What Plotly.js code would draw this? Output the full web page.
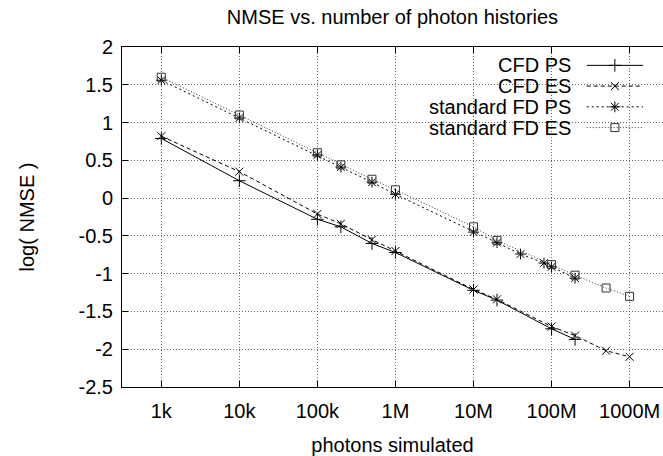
<!DOCTYPE html>
<html>
<head>
<meta charset="utf-8">
<script src="https://cdn.plot.ly/plotly-3.0.1.min.js"></script>
<style>
  html, body { margin: 0; padding: 0; background: #fff; overflow: hidden; }
  #chart { width: 663px; height: 456px; }
</style>
</head>
<body>
<div id="chart"></div>
<script>
// ---- data ----
const seriesNames = ["CFD PS", "CFD ES", "standard FD PS", "standard FD ES"];

const cfdPsX = [1e3, 1e4, 1e5, 2e5, 5e5, 1e6, 1e7, 2e7, 1e8, 2e8];
const cfdPsY = [0.79, 0.23, -0.28, -0.38, -0.60, -0.72, -1.22, -1.35, -1.73, -1.87];

const cfdEsX = [1e3, 1e4, 1e5, 2e5, 5e5, 1e6, 1e7, 2e7, 1e8, 2e8, 5e8, 1e9];
const cfdEsY = [0.82, 0.35, -0.21, -0.34, -0.55, -0.70, -1.21, -1.34, -1.70, -1.82, -2.02, -2.10];

const fdPsX = [1e3, 1e4, 1e5, 2e5, 5e5, 1e6, 1e7, 2e7, 4e7, 8e7, 1e8, 2e8];
const fdPsY = [1.56, 1.06, 0.57, 0.41, 0.21, 0.05, -0.45, -0.59, -0.74, -0.86, -0.91, -1.06];

const fdEsX = [1e3, 1e4, 1e5, 2e5, 5e5, 1e6, 1e7, 2e7, 1e8, 2e8, 5e8, 1e9];
const fdEsY = [1.60, 1.10, 0.60, 0.44, 0.25, 0.11, -0.38, -0.56, -0.88, -1.02, -1.19, -1.30];

const xTickVals = [1e3, 1e4, 1e5, 1e6, 1e7, 1e8, 1e9];
const xTickText = ["1k", "10k", "100k", "1M", "10M", "100M", "1000M"];
const yTickVals = [2, 1.5, 1, 0.5, 0, -0.5, -1, -1.5, -2, -2.5];
const yTickText = ["2", "1.5", "1", "0.5", "0", "-0.5", "-1", "-1.5", "-2", "-2.5"];

// ---- axes ranges and styles ----
const X_RANGE = [2.4965, 9.428];   // log10 units
const Y_RANGE = [-2.5, 2];
const FONT = "Liberation Sans, Arial, Helvetica, sans-serif";
const styles = [
  { dash: "solid",    symbol: "cross-thin",    size: 9, color: "#000" },
  { dash: "4px,3px",  symbol: "x-thin",        size: 8, color: "#000" },
  { dash: "2px,3px",  symbol: "asterisk-open", size: 9, color: "#000" },
  { dash: "1px,2px",  symbol: "square-open",   size: 8, color: "#333" }
];
const xs = [cfdPsX, cfdEsX, fdPsX, fdEsX];
const ys = [cfdPsY, cfdEsY, fdPsY, fdEsY];

// fraction of plot area -> axis data value
const fx = f => Math.pow(10, X_RANGE[0] + f * (X_RANGE[1] - X_RANGE[0]));
const fy = f => Y_RANGE[0] + f * (Y_RANGE[1] - Y_RANGE[0]);

const traces = [];
for (let i = 0; i < 4; i++) {
  const s = styles[i];
  traces.push({
    type: "scatter", mode: "lines+markers",
    x: xs[i], y: ys[i], name: seriesNames[i], showlegend: false,
    line: { color: s.color, width: 1, dash: s.dash },
    marker: { symbol: s.symbol, size: s.size, color: s.color,
              line: { color: s.color, width: 1 } },
    hoverinfo: "skip", cliponaxis: false
  });
}

// ---- hand-made key (text on the left, sample on the right) ----
const keyRows = [0.946, 0.885, 0.824, 0.763];
const keyLineX = [0.859, 0.963];
const keyMarkX = 0.911;
const keyTextX = 0.8335;
const annotations = [];
for (let i = 0; i < 4; i++) {
  const s = styles[i];
  traces.push({
    type: "scatter", mode: "lines",
    x: keyLineX.map(fx), y: [fy(keyRows[i]), fy(keyRows[i])], showlegend: false, hoverinfo: "skip",
    line: { color: s.color, width: 1, dash: s.dash }
  });
  traces.push({
    type: "scatter", mode: "markers",
    x: [fx(keyMarkX)], y: [fy(keyRows[i])], showlegend: false, hoverinfo: "skip",
    marker: { symbol: s.symbol, size: s.size, color: s.color,
              line: { color: s.color, width: 1 } }
  });
  annotations.push({
    xref: "paper", yref: "paper", x: keyTextX, y: keyRows[i],
    xanchor: "right", yanchor: "middle", showarrow: false,
    text: seriesNames[i], font: { family: FONT, size: 20, color: "#000" }
  });
}

const layout = {
  width: 663, height: 456,
  margin: { l: 122, r: 0, t: 47, b: 69, pad: 0 },
  paper_bgcolor: "#fff", plot_bgcolor: "#fff",
  font: { family: FONT, size: 20, color: "#000" },
  showlegend: false,
  hovermode: false,
  title: {
    text: "NMSE vs. number of photon histories",
    xref: "paper", x: 0.5, xanchor: "center",
    yref: "container", y: 1 - 17 / 456, yanchor: "middle",
    font: { family: FONT, size: 20, color: "#000" }
  },
  xaxis: {
    type: "log", range: X_RANGE, autorange: false,
    tickmode: "array", tickvals: xTickVals, ticktext: xTickText,
    ticks: "inside", ticklen: 6, tickwidth: 1, tickcolor: "#000",
    ticklabelstandoff: 6,
    showline: true, linecolor: "#000", linewidth: 1, mirror: "ticks",
    showgrid: true, gridcolor: "#666", gridwidth: 1, griddash: "1px,2px",
    zeroline: false,
    tickfont: { family: FONT, size: 20, color: "#000" },
    title: { text: "photons simulated", font: { family: FONT, size: 20, color: "#000" }, standoff: 19 }
  },
  yaxis: {
    range: Y_RANGE, autorange: false,
    tickmode: "array", tickvals: yTickVals, ticktext: yTickText,
    ticks: "inside", ticklen: 6, tickwidth: 1, tickcolor: "#000",
    ticklabelstandoff: 4,
    showline: true, linecolor: "#000", linewidth: 1, mirror: false,
    showgrid: true, gridcolor: "#666", gridwidth: 1, griddash: "1px,2px",
    zeroline: false,
    tickfont: { family: FONT, size: 20, color: "#000" },
    title: { text: "log( NMSE )", font: { family: FONT, size: 20, color: "#000" }, standoff: 38 }
  },
  shapes: [{
    type: "rect", xref: "x", yref: "y",
    x0: X_RANGE[0] + 0.507 * (X_RANGE[1] - X_RANGE[0]),
    x1: X_RANGE[0] + 0.986 * (X_RANGE[1] - X_RANGE[0]),
    y0: fy(0.733), y1: fy(1),
    fillcolor: "#fff", line: { width: 0 }, layer: "between"
  }],
  annotations: annotations
};

Plotly.newPlot("chart", traces, layout, { displayModeBar: false, staticPlot: true });
</script>
</body>
</html>
